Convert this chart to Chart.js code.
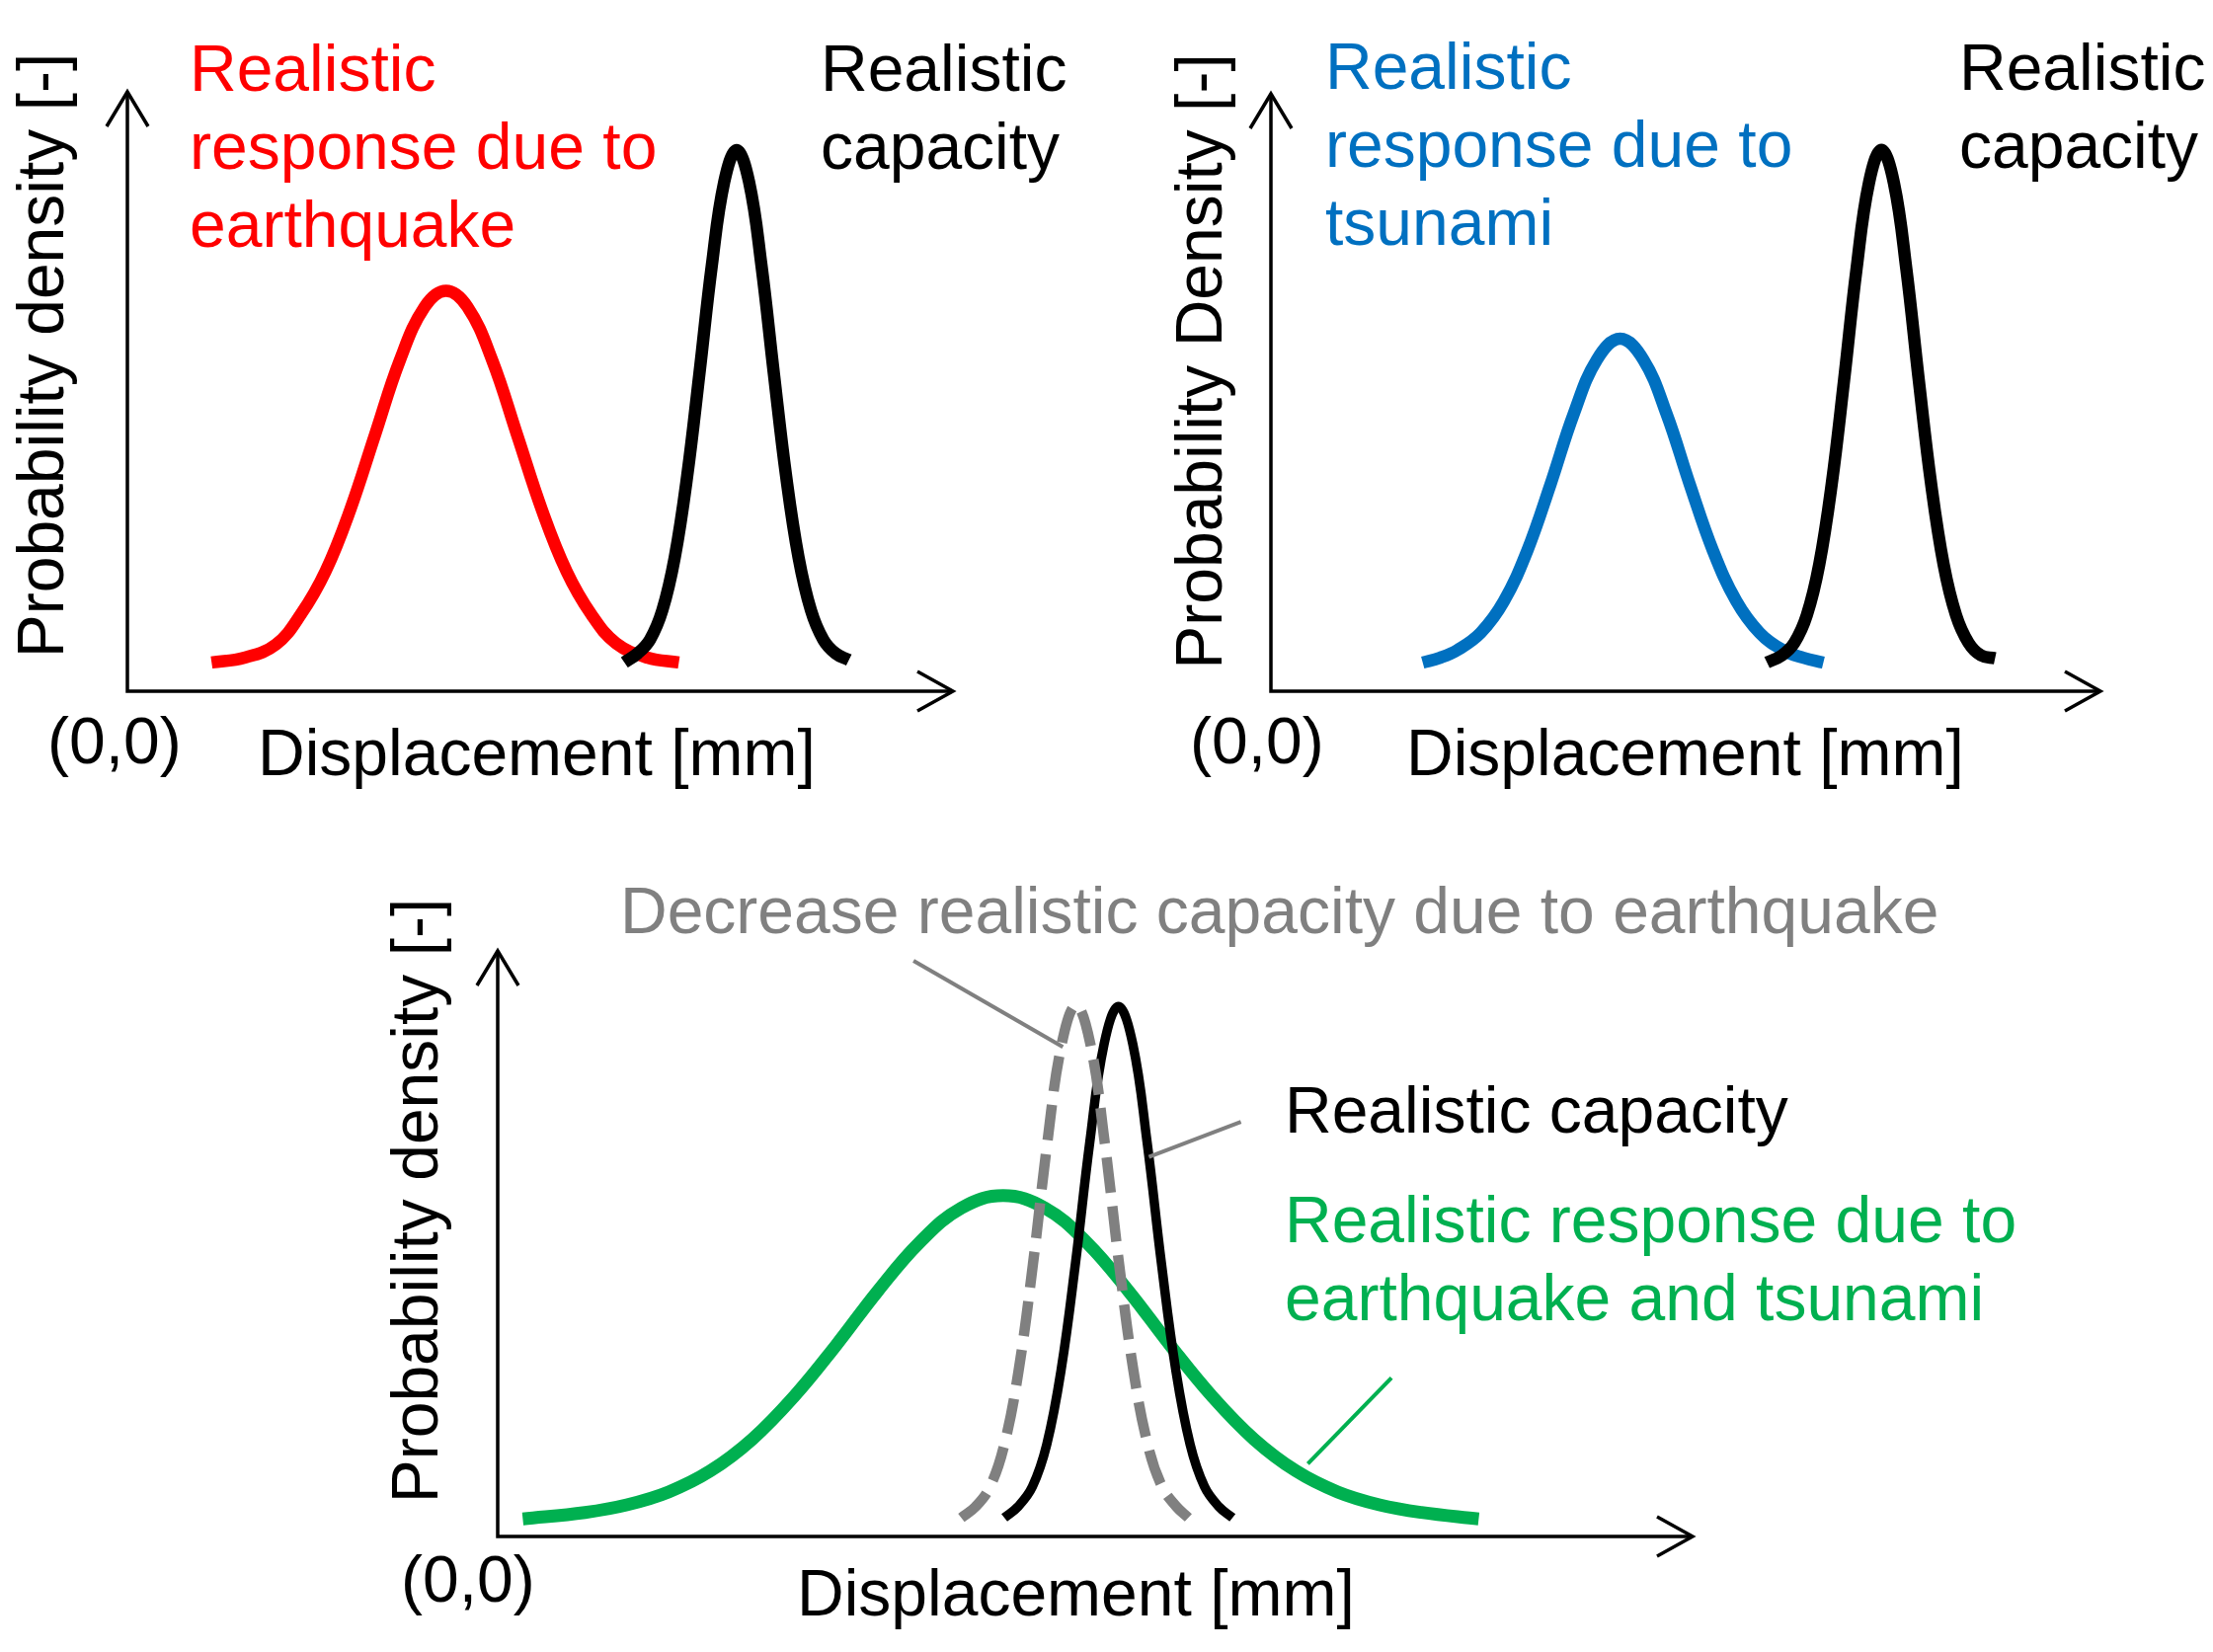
<!DOCTYPE html>
<html>
<head>
<meta charset="utf-8">
<script src="https://cdn.jsdelivr.net/npm/chart.js@4.4.1/dist/chart.umd.min.js"></script>
<style>
html,body{margin:0;padding:0;background:#ffffff;}
#wrap{position:relative;width:2241px;height:1673px;background:#ffffff;overflow:hidden;}
#wrap canvas{position:absolute;left:0;top:0;}
</style>
</head>
<body>
<div id="wrap">
<canvas id="c1" width="2241" height="1673"></canvas>
<canvas id="c2" width="2241" height="1673"></canvas>
<canvas id="c3" width="2241" height="1673"></canvas>
</div>
<script>
// ---------- Data (arbitrary units 0..100) ----------
// Panel 1: earthquake response vs capacity
const eqRespX = [10.2, 14.2, 18.0, 21.0, 24.0, 27.0, 30.0, 33.0, 36.0, 38.6, 41.2, 44.2, 47.2, 50.2, 53.2, 56.2, 59.2, 63.0, 66.8];
const eqRespY = [4.8, 5.6, 7.8, 12.8, 20.0, 30.3, 42.8, 55.2, 64.1, 66.8, 64.1, 55.2, 42.8, 30.3, 20.0, 12.8, 8.0, 5.6, 4.8];
const cap1X   = [60.2, 61.8, 63.3, 64.8, 66.3, 67.8, 69.3, 70.8, 72.3, 73.8, 75.3, 76.8, 78.3, 79.8, 81.3, 82.8, 84.3, 85.8, 87.4];
const cap1Y   = [4.8, 6.3, 8.6, 13.5, 22.3, 35.8, 53.1, 71.1, 85.0, 90.3, 85.0, 71.1, 53.1, 35.8, 22.3, 13.5, 8.6, 6.3, 5.2];
// Panel 2: tsunami response vs capacity
const tsRespX = [18.3, 20.4, 22.5, 25.3, 28.1, 30.9, 33.7, 36.5, 39.3, 42.1, 44.9, 47.7, 50.5, 53.3, 56.1, 58.9, 61.7, 64.2, 66.6];
const tsRespY = [4.8, 5.6, 6.9, 9.8, 15.1, 23.5, 34.6, 46.4, 55.5, 59.0, 55.5, 46.4, 34.6, 23.5, 15.1, 9.8, 6.9, 5.6, 4.8];
const cap2X   = [59.8, 61.6, 63.1, 64.6, 66.1, 67.6, 69.1, 70.6, 72.1, 73.6, 75.1, 76.6, 78.1, 79.6, 81.1, 82.6, 84.1, 85.6, 87.3];
const cap2Y   = [4.8, 6.0, 8.1, 12.7, 21.2, 34.6, 52.1, 70.7, 85.1, 90.6, 85.1, 70.7, 52.1, 34.6, 21.2, 12.7, 8.1, 6.0, 5.5];
// Panel 3: combined response, decreased capacity, capacity
const combRespX = [2.1, 7.3, 10.8, 14.3, 17.8, 21.3, 24.8, 28.3, 31.8, 35.3, 38.8, 42.3, 45.8, 49.3, 52.8, 56.3, 59.8, 63.3, 66.8, 70.3, 73.8, 77.3, 82.1];
const combRespY = [3.0, 4.1, 5.4, 7.6, 11.2, 16.6, 23.9, 32.6, 41.9, 50.2, 56.1, 58.2, 56.1, 50.2, 41.9, 32.6, 23.9, 16.6, 11.2, 7.6, 5.4, 4.1, 3.0];
const decCapX   = [38.8, 40.0, 41.2, 42.4, 43.6, 44.8, 46.0, 47.2, 48.4, 49.6, 50.8, 52.0, 53.2, 54.4, 55.6, 56.8, 57.8];
const decCapY   = [3.2, 5.1, 8.5, 15.7, 28.4, 46.6, 67.3, 84.1, 90.7, 84.1, 67.3, 46.6, 28.4, 15.7, 8.5, 5.1, 3.2];
const cap3X     = [42.4, 43.55, 44.75, 45.95, 47.15, 48.35, 49.55, 50.75, 51.95, 53.15, 54.35, 55.55, 56.75, 57.95, 59.15, 60.35, 61.5];
const cap3Y     = [3.2, 5.1, 8.5, 15.7, 28.4, 46.6, 67.3, 84.1, 90.5, 84.1, 67.3, 46.6, 28.4, 15.7, 8.5, 5.1, 3.2];
// Leader lines in panel 3 (data units): [x1, y1, x2, y2]
const leaderDec  = [34.8, 98.3, 47.3, 83.6];
const leaderCap  = [62.2, 70.8, 54.5, 64.8];
const leaderComb = [74.8, 27.1, 67.8, 12.4];

// ---------- Text ----------
const FONT = '66px "Liberation Sans", Arial, sans-serif';
const RED = '#FF0000', BLUE = '#0070C0', GREEN = '#00B050', GRAY = '#808080', BLACK = '#000000';

function pts(xs, ys){ return xs.map((x,i)=>({x:x, y:ys[i]})); }

function curve(label, xs, ys, color, width, dash){
  return {
    label: label, data: pts(xs, ys), borderColor: color, borderWidth: width,
    borderDash: dash || [], borderCapStyle: 'butt', borderJoinStyle: 'round',
    pointRadius: 0, fill: false, cubicInterpolationMode: 'default', tension: 0.4
  };
}

function decorPlugin(decor){
  return {
    id: 'decor',
    beforeDatasetsDraw(chart){
      const ctx = chart.ctx, a = chart.chartArea;
      ctx.save();
      ctx.strokeStyle = BLACK; ctx.lineWidth = 3.5; ctx.lineCap = 'butt'; ctx.lineJoin = 'miter';
      ctx.beginPath();
      ctx.moveTo(a.left, a.top); ctx.lineTo(a.left, a.bottom); ctx.lineTo(a.right, a.bottom);
      ctx.stroke();
      // arrow heads (open chevrons)
      ctx.beginPath();
      ctx.moveTo(a.left - 21, a.top + 35); ctx.lineTo(a.left, a.top); ctx.lineTo(a.left + 21, a.top + 35);
      ctx.moveTo(a.right - 36, a.bottom - 20); ctx.lineTo(a.right, a.bottom); ctx.lineTo(a.right - 36, a.bottom + 20);
      ctx.stroke();
      ctx.restore();
    },
    afterDraw(chart){
      const ctx = chart.ctx, xs = chart.scales.x, ys = chart.scales.y;
      ctx.save();
      (decor.leaders || []).forEach(l => {
        ctx.strokeStyle = l.c; ctx.lineWidth = 4; ctx.lineCap = 'butt';
        ctx.beginPath();
        ctx.moveTo(xs.getPixelForValue(l.p[0]), ys.getPixelForValue(l.p[1]));
        ctx.lineTo(xs.getPixelForValue(l.p[2]), ys.getPixelForValue(l.p[3]));
        ctx.stroke();
      });
      ctx.font = FONT; ctx.textBaseline = 'alphabetic';
      (decor.texts || []).forEach(t => {
        ctx.fillStyle = t.c || BLACK;
        if (t.rot) {
          ctx.save();
          ctx.translate(t.x, t.y); ctx.rotate(-Math.PI/2);
          ctx.textAlign = 'center';
          ctx.fillText(t.t, 0, 0);
          ctx.restore();
        } else {
          ctx.textAlign = 'left';
          ctx.fillText(t.t, t.x, t.y);
        }
      });
      ctx.restore();
    }
  };
}

function makeChart(id, datasets, area, decor){
  const W = 2241, H = 1673;
  return new Chart(document.getElementById(id), {
    type: 'line',
    data: { datasets: datasets },
    options: {
      responsive: false, animation: false, devicePixelRatio: 1,
      layout: { padding: { left: area[0], top: area[1], right: W - area[2], bottom: H - area[3] } },
      scales: {
        x: { type: 'linear', min: 0, max: 100, display: false },
        y: { type: 'linear', min: 0, max: 100, display: false }
      },
      plugins: { legend: { display: false }, tooltip: { enabled: false } },
      events: []
    },
    plugins: [decorPlugin(decor)]
  });
}

// Panel 1
makeChart('c1', [
  curve('Realistic capacity', cap1X, cap1Y, BLACK, 12.5),
  curve('Realistic response due to earthquake', eqRespX, eqRespY, RED, 12.5)
], [129, 93, 965, 700], {
  texts: [
    {t:'Realistic', x:192, y:92, c:RED},
    {t:'response due to', x:192, y:171, c:RED},
    {t:'earthquake', x:192, y:250, c:RED},
    {t:'Realistic', x:831, y:92},
    {t:'capacity', x:831, y:171},
    {t:'(0,0)', x:48, y:773},
    {t:'Displacement [mm]', x:261, y:785},
    {t:'Probability density [-]', x:64, y:360, rot:true}
  ]
});

// Panel 2
makeChart('c2', [
  curve('Realistic capacity', cap2X, cap2Y, BLACK, 12.5),
  curve('Realistic response due to tsunami', tsRespX, tsRespY, BLUE, 12.5)
], [1287, 95, 2127, 700], {
  texts: [
    {t:'Realistic', x:1342, y:90, c:BLUE},
    {t:'response due to', x:1342, y:169, c:BLUE},
    {t:'tsunami', x:1342, y:248, c:BLUE},
    {t:'Realistic', x:1984, y:91},
    {t:'capacity', x:1984, y:170},
    {t:'(0,0)', x:1205, y:773},
    {t:'Displacement [mm]', x:1424, y:785},
    {t:'Probability Density [-]', x:1237, y:366, rot:true}
  ]
});

// Panel 3
makeChart('c3', [
  curve('Decrease realistic capacity due to earthquake', decCapX, decCapY, GRAY, 10.5, [36, 14]),
  curve('Realistic capacity', cap3X, cap3Y, BLACK, 9.5),
  curve('Realistic response due to earthquake and tsunami', combRespX, combRespY, GREEN, 13)
], [504, 963, 1714, 1556], {
  leaders: [
    {p: leaderDec, c: GRAY},
    {p: leaderCap, c: GRAY},
    {p: leaderComb, c: GREEN}
  ],
  texts: [
    {t:'Decrease realistic capacity due to earthquake', x:628, y:945, c:GRAY},
    {t:'Realistic capacity', x:1301, y:1147},
    {t:'Realistic response due to', x:1301, y:1258, c:GREEN},
    {t:'earthquake and tsunami', x:1301, y:1337, c:GREEN},
    {t:'(0,0)', x:406, y:1622},
    {t:'Displacement [mm]', x:807, y:1636},
    {t:'Probability density [-]', x:443, y:1216, rot:true}
  ]
});
</script>
</body>
</html>
